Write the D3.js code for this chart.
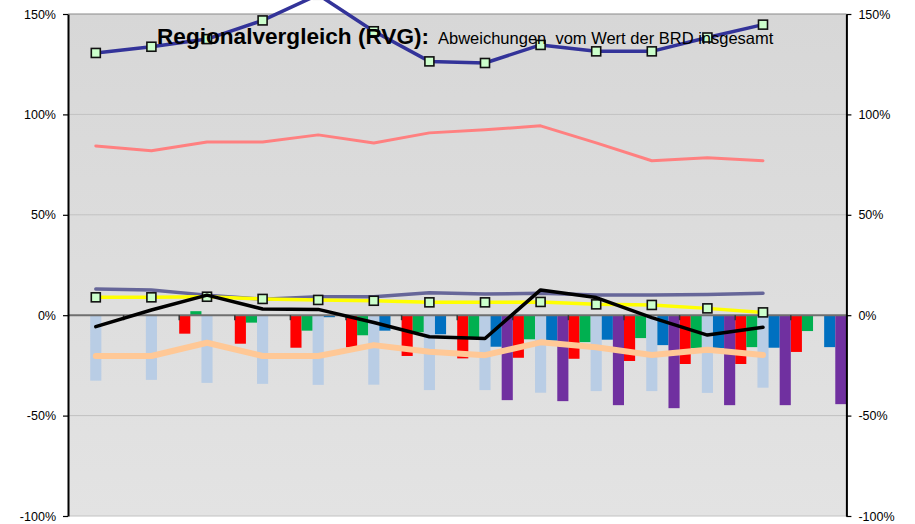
<!DOCTYPE html>
<html><head><meta charset="utf-8">
<script src="https://cdn.jsdelivr.net/npm/d3@7"></script>
<style>
body{margin:0;background:#fff}
svg{display:block;font-family:"Liberation Sans",Arial,sans-serif}
</style>
</head><body>
<svg id="chart" width="915" height="524"></svg>
<script>
// ---- data ----
const categories = ["1","2","3","4","5","6","7","8","9","10","11","12","13","14"];
const yTicks = [-100, -50, 0, 50, 100, 150];

// bar series (percent deviation)
const barRed       = [null, null, -9.2, -14.2, -16.2, -16.0, -20.3, -21.5, -21.2, -21.7, -22.8, -24.3, -24.3, -18.3];
const barGreen     = [null, null, 2.0, -3.7, -7.7, -10.0, -8.5, -11.0, -12.0, -13.4, -11.4, -16.4, -15.9, -7.9];
const barLightBlue = [-32.6, -32.2, -33.7, -34.2, -34.7, -34.6, -37.3, -37.3, -38.6, -37.8, -37.8, -38.7, -36.1, null];
const barBlue      = [null, null, null, null, -1.0, -7.7, -9.5, -15.7, -12.7, -12.2, -14.9, -16.5, -16.2, -15.9];
const barPurple    = [null, null, null, null, null, null, null, -42.3, -42.8, -44.8, -46.3, -44.8, -44.8, -44.3];

// line series (first 13 categories)
const lineDarkBlue = [130.6, 133.7, 137.5, 146.8, 159.6, 141.4, 126.4, 125.6, 134.6, 131.4, 131.4, 138.3, 144.7];
const lineSalmon   = [84.3, 81.9, 86.3, 86.3, 89.8, 85.8, 90.8, 92.3, 94.3, 85.8, 76.9, 78.4, 76.9];
const lineSlate    = [13.0, 12.6, 10.0, 8.0, 9.2, 9.2, 11.2, 10.6, 10.9, 10.0, 10.0, 10.3, 10.9];
const lineYellow   = [8.9, 8.9, 9.2, 8.1, 7.6, 7.2, 6.4, 6.4, 6.6, 5.4, 5.1, 3.4, 1.4];
const lineBlack    = [-5.7, 2.6, 10.0, 3.1, 2.9, -3.6, -10.7, -11.6, 12.6, 8.8, -1.2, -9.9, -6.0];
const linePeach    = [-20.3, -20.3, -13.7, -20.3, -20.3, -14.9, -18.2, -19.9, -13.5, -16.0, -19.8, -17.2, -19.8];

const titleBold = "Regionalvergleich (RVG):";
const titleRest = "Abweichungen  vom Wert der BRD insgesamt";

// ---- layout ----
const svg = d3.select("#chart");
const L = 68, R = 846.4, T = 14, B = 516;

const x = d3.scaleBand().domain(categories).range([L, R]).padding(0);
const y = d3.scaleLinear().domain([-100, 150]).range([B, T]);

const barSeries = [
  {key:"red", values:barRed, color:"#ff0000"},
  {key:"green", values:barGreen, color:"#00b050"},
  {key:"lightblue", values:barLightBlue, color:"#b9cde5"},
  {key:"blue", values:barBlue, color:"#0070c0"},
  {key:"purple", values:barPurple, color:"#7030a0"}
];
const xs = d3.scaleBand().domain(barSeries.map(s => s.key)).range([0, x.bandwidth()]).padding(0);

// background gradient
const defs = svg.append("defs");
const grad = defs.append("linearGradient").attr("id","bg").attr("x1",0).attr("y1",0).attr("x2",0).attr("y2",1);
grad.append("stop").attr("offset","0%").attr("stop-color","#d7d7d7");
grad.append("stop").attr("offset","100%").attr("stop-color","#e3e3e3");
svg.append("rect").attr("x", L).attr("y", T).attr("width", R - L).attr("height", B - T).attr("fill", "url(#bg)");

// gridlines
svg.append("g").selectAll("line").data(yTicks.filter(d => d !== 0 && d !== 150)).join("line")
  .attr("x1", L).attr("x2", R).attr("y1", d => y(d)).attr("y2", d => y(d))
  .attr("stroke", "#c2c2c2").attr("stroke-width", 1);
svg.append("line").attr("x1", L).attr("x2", R).attr("y1", y(150)).attr("y2", y(150))
  .attr("stroke", "#8a8a8a").attr("stroke-width", 1.2);

// bars
const barG = svg.append("g");
barSeries.forEach(s => {
  barG.append("g").selectAll("rect")
    .data(s.values.map((v, i) => ({v, c: categories[i]})).filter(d => d.v !== null))
    .join("rect")
    .attr("x", d => x(d.c) + xs(s.key))
    .attr("width", xs.bandwidth())
    .attr("y", d => y(Math.max(0, d.v)))
    .attr("height", d => Math.abs(y(d.v) - y(0)))
    .attr("fill", s.color);
});

// zero line with category ticks
svg.append("line").attr("x1", L).attr("x2", R).attr("y1", y(0)).attr("y2", y(0))
  .attr("stroke", "#6f6f6f").attr("stroke-width", 2);
svg.append("g").selectAll("line").data(categories.slice(1)).join("line")
  .attr("x1", d => x(d)).attr("x2", d => x(d))
  .attr("y1", y(0)).attr("y2", y(0) + 5)
  .attr("stroke", "#333").attr("stroke-width", 1.5);

// lines
const lineGen = d3.line().x((d, i) => x(categories[i]) + x.bandwidth() / 2).y(d => y(d));
function drawLine(vals, color, w) {
  svg.append("path").datum(vals).attr("d", lineGen)
    .attr("fill", "none").attr("stroke", color).attr("stroke-width", w)
    .attr("stroke-linejoin", "round").attr("stroke-linecap", "round");
}
function drawMarkers(vals) {
  svg.append("g").selectAll("rect").data(vals).join("rect")
    .attr("x", (d, i) => x(categories[i]) + x.bandwidth() / 2 - 4.5)
    .attr("y", d => y(d) - 4.5)
    .attr("width", 9).attr("height", 9)
    .attr("fill", "#ccffcc").attr("stroke", "#111").attr("stroke-width", 1.6);
}

drawLine(linePeach, "#ffc896", 6);
drawLine(lineSlate, "#666699", 3.5);
drawLine(lineYellow, "#ffff00", 3.5);
drawMarkers(lineYellow);
drawLine(lineBlack, "#000000", 3.5);
drawLine(lineSalmon, "#ff8080", 3);
drawLine(lineDarkBlue, "#333399", 3.5);
drawMarkers(lineDarkBlue);

// title drawn on top of the lines
svg.append("text").attr("x", 157).attr("y", 44).attr("fill", "#000")
  .attr("font-weight", "bold").attr("font-size", 22.6).text(titleBold);
svg.append("text").attr("x", 438).attr("y", 44).attr("font-size", 16.5).attr("fill", "#000")
  .attr("xml:space", "preserve").style("white-space", "pre").text(titleRest);

// axes
const fmt = d => d + "%";
const axL = svg.append("g").attr("transform", `translate(${L},0)`)
  .call(d3.axisLeft(y).tickValues(yTicks).tickFormat(fmt).tickSize(5).tickSizeOuter(0).tickPadding(7));
const axR = svg.append("g").attr("transform", `translate(${R},0)`)
  .call(d3.axisRight(y).tickValues(yTicks).tickFormat(fmt).tickSize(5).tickSizeOuter(0).tickPadding(7));
[axL, axR].forEach(a => {
  a.select(".domain").attr("stroke", "#000").attr("stroke-width", 2);
  a.selectAll(".tick line").attr("stroke", "#000").attr("stroke-width", 1.2);
  a.selectAll(".tick text").attr("font-size", 12.5).attr("fill", "#000")
    .attr("font-family", '"Liberation Sans",Arial,sans-serif');
});
</script>
</body></html>
